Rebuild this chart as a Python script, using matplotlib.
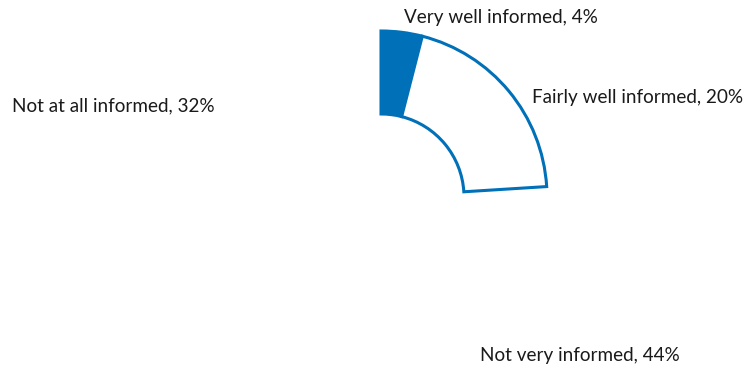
import matplotlib
matplotlib.use("Agg")
import matplotlib.pyplot as plt

categories = ["Very well informed", "Fairly well informed", "Not very informed", "Not at all informed"]
shares = [4, 20, 44, 32]

BLUE = "#0070B8"
W, H = 746, 369

fig = plt.figure(figsize=(W / 100, H / 100), dpi=100)
ax = fig.add_axes([0, 0, 1, 1])

wedges, _ = ax.pie(shares, startangle=90, counterclock=False,
                   center=(381, 172), radius=166, frame=True,
                   wedgeprops=dict(width=83, linewidth=2.2, edgecolor=BLUE, joinstyle="miter"))
ax.set_xlim(0, W)
ax.set_ylim(0, H)
ax.set_aspect("equal")
ax.axis("off")

# first slice solid, second outlined, remaining slices hidden
wedges[0].set_facecolor(BLUE)
wedges[1].set_facecolor("white")
for w in wedges[2:]:
    w.set_visible(False)

label_pos = [(404, 352), (532, 272), (480, 13), (12, 263)]
for name, val, (x, y) in zip(categories, shares, label_pos):
    ax.text(x, y, f"{name}, {val}%", fontsize=13.6, family="Lato",
            ha="left", va="center", color="#1a1a1a")

fig.savefig("out.png", dpi=100)
